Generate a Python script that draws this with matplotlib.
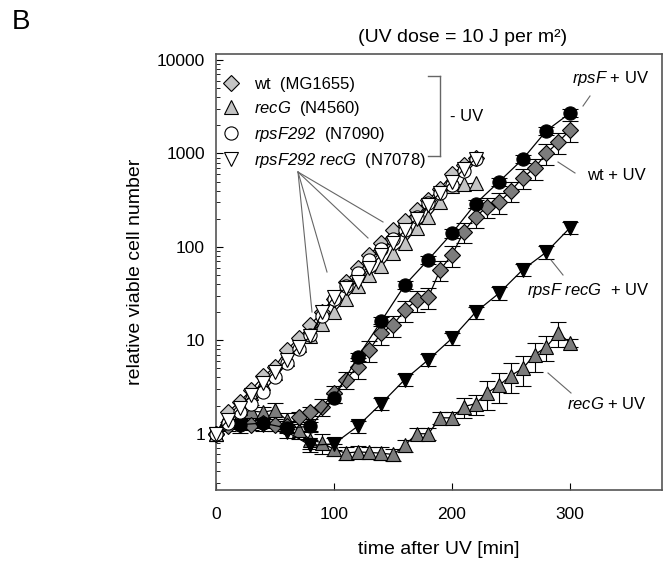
import matplotlib
matplotlib.use("Agg")
import matplotlib.pyplot as plt
from matplotlib.lines import Line2D
import numpy as np

plt.rcParams['font.family'] = ['Liberation Sans', 'DejaVu Sans']
plt.rcParams['mathtext.fontset'] = 'custom'
plt.rcParams['mathtext.rm'] = 'Liberation Sans'
plt.rcParams['mathtext.it'] = 'Liberation Sans:italic'
plt.rcParams['mathtext.sf'] = 'Liberation Sans:italic'

# -UV cultures, sampled every 10 min
t_minus = list(range(0, 230, 10))
wt_minus = [1, 1.7, 2.2, 2.95, 4.1, 5.2, 7.9, 10.5, 14.7, 20, 28, 42, 60, 82, 110,
            150, 190, 250, 320, 420, 600, 750, 900]
recG_minus = [1, 1.6, 1.9, 2.7, 3.5, 4.5, 6.3, 9, 11, 15, 20, 28, 38, 50, 62,
              87, 110, 160, 210, 300, 450, 470, 480]
rpsF_minus = [1, 1.3, 1.7, 2.1, 2.8, 4.0, 5.7, 8, 11.5, 18, 28, 38, 52, 72, 95,
              120, 150, 210, 295, 380, 460, 650, 880]
rpsFrecG_minus = [1, 1.4, 1.9, 2.6, 3.5, 4.6, 6.2, 8.5, 11, 20, 29, 36, 42, 60, 82,
                  110, 150, 200, 280, 380, 500, 680, 870]

# +UV cultures
t_10 = list(range(0, 310, 10))
t_20 = list(range(0, 310, 20))
wt_uv = [1, 1.2, 1.3, 1.25, 1.3, 1.25, 1.2, 1.5, 1.7, 1.95, 2.7, 3.8, 5.2, 7.9, 12,
         14.6, 21, 27, 29, 57, 82, 145, 210, 270, 300, 400, 550, 700, 1000, 1320, 1780]
wt_uv_err = [0, 0.1, 0.1, 0.12, 0.12, 0.15, 0.15, 0.15, 0.15, 0.2, 0.2, 0.2, 0.25, 0.25, 0.25,
             0.25, 0.25, 0.25, 0.25, 0.25, 0.25, 0.25, 0.25, 0.25, 0.25, 0.25, 0.25, 0.25, 0.25, 0.25, 0.25]
recG_uv = [1, 1.5, 1.6, 1.75, 1.7, 1.8, 1.4, 1.1, 0.86, 0.8, 0.68, 0.62, 0.64, 0.63, 0.62,
           0.6, 0.75, 1.0, 1.0, 1.48, 1.48, 1.95, 2.1, 2.75, 3.3, 4.2, 5.0, 7.0, 8.5, 12, 9.4]
recG_uv_err = [0, 0.15, 0.15, 0.15, 0.15, 0.2, 0.2, 0.2, 0.2, 0.25, 0.15, 0.15, 0.15, 0.15, 0.15,
               0.15, 0.15, 0.15, 0.15, 0.15, 0.15, 0.25, 0.25, 0.35, 0.35, 0.35, 0.35, 0.35, 0.3, 0.3, 0.1]
rpsF_uv = [1, 1.25, 1.3, 1.15, 1.2, 2.4, 6.6, 16, 39, 73, 140, 290, 500, 870, 1750, 2700]
rpsF_uv_err = [0, 0.1, 0.1, 0.1, 0.1, 0.1, 0.1, 0.1, 0.1, 0.1, 0.1, 0.1, 0.1, 0.1, 0.1, 0.1]
rpsFrecG_uv = [1, 1.2, 1.25, 1.05, 0.75, 0.78, 1.2, 2.1, 3.8, 6.2, 10.5, 20, 32, 57, 88, 160]
rpsFrecG_uv_err = [0, 0.15, 0.15, 0.15, 0.15, 0.15, 0.15, 0.15, 0.15, 0.15, 0.15, 0.15, 0.15, 0.15, 0.15, 0.15]

LIGHT = '#c4c4c4'
DARK = '#7c7c7c'

fig = plt.figure(figsize=(6.67, 5.64), dpi=100)
ax = fig.add_axes([216 / 667, 1 - 490 / 564, 446 / 667, 436 / 564])


def px(x, y):
    return (x / 667, 1 - y / 564)


def draw(t, v, marker, face, err=None, ms=9, z=3):
    t = np.array(t)
    v = np.array(v, dtype=float)
    if err is not None:
        e = np.array(err) * v
        ax.errorbar(t, v, yerr=e, fmt='none', ecolor='black', elinewidth=0.8,
                    capsize=6, capthick=0.8, zorder=z - 1, clip_on=False)
    ax.plot(t, v, color='black', lw=0.9, marker=marker, ms=ms, mfc=face,
            mec='black', mew=0.8, zorder=z, clip_on=False)


# +UV
draw(t_10, recG_uv, '^', DARK, recG_uv_err, ms=9.5)
draw(t_20, rpsFrecG_uv, 'v', 'black', rpsFrecG_uv_err, ms=9.5)
draw(t_10, wt_uv, 'D', DARK, wt_uv_err, ms=8)
draw(t_20, rpsF_uv, 'o', 'black', rpsF_uv_err, ms=9.5)
# -UV
draw(t_minus, recG_minus, '^', LIGHT, ms=9.5, z=5)
draw(t_minus, wt_minus, 'D', LIGHT, ms=8, z=5)
draw(t_minus, rpsF_minus, 'o', 'white', ms=9.5, z=5)
draw(t_minus, rpsFrecG_minus, 'v', 'white', ms=9.5, z=5)

ax.set_yscale('log')
ax.set_xlim(0, 378)
ax.set_ylim(0.25, 11600)
ax.set_xticks([0, 100, 200, 300])
ax.set_yticks([1, 10, 100, 1000, 10000])
ax.set_yticklabels(['1', '10', '100', '1000', '10000'])
ax.tick_params(axis='both', which='major', direction='in', length=5, width=0.8,
               labelsize=12.5, pad=8)
ax.tick_params(axis='x', which='major', pad=12)
ax.tick_params(axis='y', which='minor', direction='in', length=3, width=0.6)
ax.tick_params(axis='x', which='minor', bottom=False)
for s in ax.spines.values():
    s.set_color('#555555')
    s.set_linewidth(1.2)

ax.set_xlabel('time after UV [min]', fontsize=14, labelpad=14)
ax.set_ylabel('relative viable cell number', fontsize=14, labelpad=9)

# legend
handles = [
    Line2D([], [], ls='none', marker='D', ms=8, mfc=LIGHT, mec='black', mew=0.8),
    Line2D([], [], ls='none', marker='^', ms=9.5, mfc=LIGHT, mec='black', mew=0.8),
    Line2D([], [], ls='none', marker='o', ms=9.5, mfc='white', mec='black', mew=0.8),
    Line2D([], [], ls='none', marker='v', ms=9.5, mfc='white', mec='black', mew=0.8),
]
labels = ['wt  (MG1655)', r'$\mathsf{recG}$  (N4560)', r'$\mathsf{rpsF292}$  (N7090)',
          r'$\mathsf{rpsF292\ recG}$  (N7078)']
ax.legend(handles, labels, loc='upper left', bbox_to_anchor=(-0.03, 0.975),
          frameon=False, fontsize=12, handletextpad=0.4, labelspacing=0.42,
          borderaxespad=0.3)

# bracket for -UV group
for xs, ys in [((428, 440), (76, 76)), ((440, 440), (76, 156)), ((428, 440), (156, 156))]:
    p0, p1 = px(xs[0], ys[0]), px(xs[1], ys[1])
    fig.add_artist(Line2D([p0[0], p1[0]], [p0[1], p1[1]], color='#666666', lw=1))
fig.text(*px(450, 117), '- UV', fontsize=12, va='center')

# leader lines from legend
for ex, ey in [(383, 222), (368, 238), (327, 272), (312, 312)]:
    p0, p1 = px(298, 172), px(ex, ey)
    fig.add_artist(Line2D([p0[0], p1[0]], [p0[1], p1[1]], color='#666666', lw=0.8))

# curve labels
notes = [
    (r'$\mathsf{rpsF}$ + UV', (572, 79), (583, 106), (590, 96)),
    ('wt + UV', (587, 176), (558, 162), (575, 173)),
    (r'$\mathsf{rpsF\ recG}$  + UV', (527, 290), (551, 260), (563, 275)),
    (r'$\mathsf{recG}$ + UV', (567, 404), (548, 373), (571, 393)),
]
for txt, tp, a, b in notes:
    fig.text(*px(*tp), txt, fontsize=12, va='center')
    p0, p1 = px(*a), px(*b)
    fig.add_artist(Line2D([p0[0], p1[0]], [p0[1], p1[1]], color='#666666', lw=0.8))

fig.text(*px(463, 38), '(UV dose = 10 J per m²)', fontsize=14, ha='center', va='center')
fig.text(*px(12, 22), 'B', fontsize=20, ha='left', va='center')

fig.savefig('out.png', dpi=100)
